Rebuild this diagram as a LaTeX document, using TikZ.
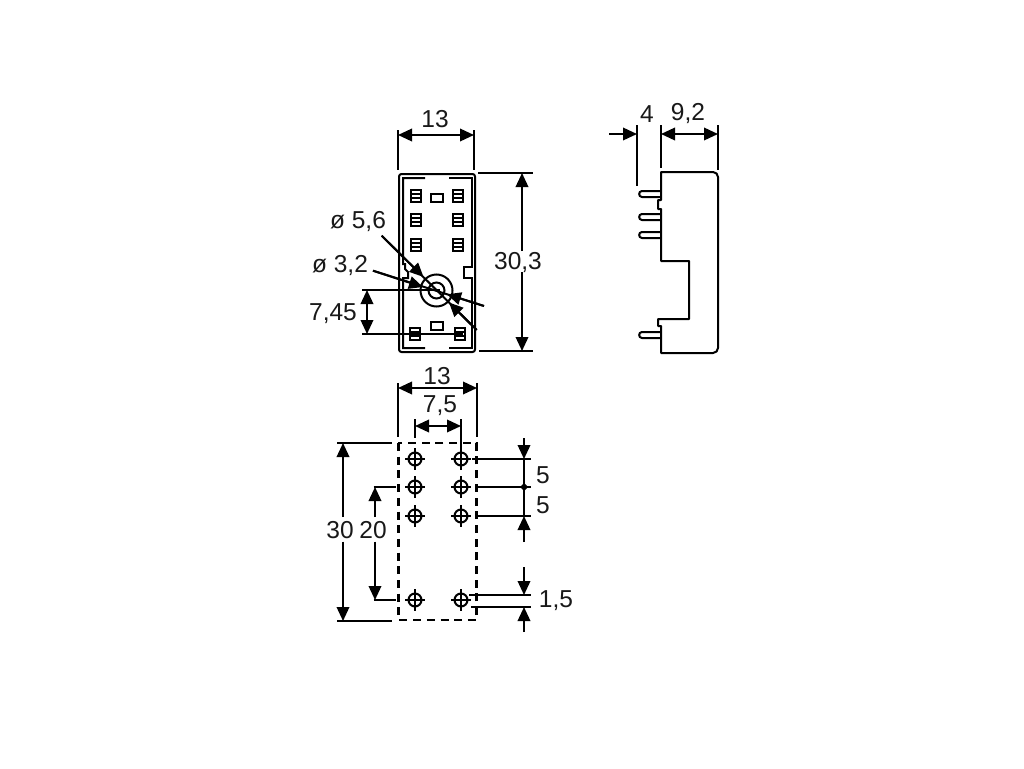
\documentclass[tikz,border=0pt]{standalone}
\usepackage{fontspec}
\setmainfont{Liberation Sans}
\usetikzlibrary{arrows.meta}
\tikzset{
  x=1pt,y=-1pt,
  ln/.style={line width=2pt,line cap=butt,line join=miter},
  tip/.style={line width=2pt,-{Triangle[length=14pt,width=12.5pt]}},
  tips/.style={line width=2pt,{Triangle[length=14pt,width=12.5pt]}-{Triangle[length=14pt,width=12.5pt]}},
  lbl/.style={inner sep=0pt,font=\fontsize{24.5}{24.5}\selectfont,text=black!90},
  dash box/.style={line width=2.6pt,dash pattern=on 8pt off 5.7pt},
  contact/.pic={
    \draw[line width=2pt] (-5,-6) rectangle (5,6);
    \draw[line width=1.6pt] (-5,-2) -- (5,-2) (-5,2) -- (5,2);
  },
  pad/.style={line width=2pt},
  hole/.pic={
    \draw[line width=2pt] (0,0) circle (6.5);
    \draw[line width=2pt] (-10,0) -- (10,0) (0,-11) -- (0,11);
  },
  pin/.pic={
    \draw[line width=2pt] (22,-3) -- (3,-3) to[out=180,in=180,looseness=1.6] (3,3) -- (22,3);
  }
}
\begin{document}
\begin{tikzpicture}
\useasboundingbox[fill=white] (0,0) rectangle (1024,768);

% ---- top view body
\draw[ln,rounded corners=2.5pt] (399,174) rectangle (475,352);
\draw[ln] (425,178) -- (403,178) -- (403,264) -- (405,264) -- (405,269) -- (408,272) -- (408,278) -- (403,278) -- (403,348) -- (425,348);
\draw[ln] (449,178) -- (472,178) -- (472,267) -- (464,267) -- (464,278) -- (472,278) -- (472,348) -- (449,348);
\pic at (416,196) {contact};
\pic at (416,220) {contact};
\pic at (416,245) {contact};
\pic at (458,196) {contact};
\pic at (458,220) {contact};
\pic at (458,245) {contact};
\pic at (415,334) {contact};
\pic at (460,334) {contact};
\draw[pad] (431,194) rectangle (443,202);
\draw[pad] (431,322) rectangle (443,330);
\draw[ln] (436.5,290.5) circle (16);
\draw[ln] (436.5,290.5) circle (8);

% ---- top view dimensions
\coordinate (tl) at (398,135); \coordinate (tr) at (474,135);
\draw[ln] (398,130) -- (398,170) (474,130) -- (474,170);
\draw[tips] (tl) -- (tr);
\node[lbl] (t13) at (435,119) {13};

\draw[ln] (478,173) -- (533,173) (479,351) -- (533,351);
\coordinate (h1) at (522,173); \coordinate (h2) at (522,351);
\draw[tip] (522,251) -- (h1);
\draw[tip] (522,272) -- (h2);
\node[lbl] (t303) at (518,263) {30,3};

\node[lbl] (t56) at (358,222) {ø 5,6};
\node[lbl] (t32) at (340,266) {ø 3,2};
\node[lbl] (t745) at (333,314) {7,45};

\draw[ln] (381.7,235.7) -- (476.7,330);
\draw[ln] (373,270.7) -- (484,306);
\draw[tip] (381.7,235.7) -- (423.5,277);
\draw[tip] (476.7,330) -- (449,302.5);
\draw[tip] (373,270.7) -- (423,287);
\draw[tip] (484,306) -- (447,294.3);

\draw[ln] (362,290) -- (440,290) (362,334) -- (463,334);
\draw[tips] (367,290) -- (367,334);

% ---- side view
\draw[ln,line join=round] (661,172) -- (713,172) to[out=0,in=90] (718,177) -- (718,348) to[out=270,in=0] (713,353) -- (661,353) -- (661,326) -- (658,326) -- (658,319) -- (689,319) -- (689,261) -- (661,261) -- (661,209) -- (658,209) -- (658,200) -- (661,200) -- cycle;
\pic at (639,194) {pin};
\pic at (639,217) {pin};
\pic at (639,235) {pin};
\pic at (639,335) {pin};
\draw[ln] (637,125) -- (637,186) (661,125) -- (661,168) (718,125) -- (718,170);
\draw[tip] (609,134) -- (637,134);
\draw[tips] (661,134) -- (718,134);
\node[lbl] (t4) at (647,114) {4};
\node[lbl] (t92) at (688,114) {9,2};

% ---- bottom view
\draw[dash box] (398.3,443) rectangle (476.7,620);
\foreach \px in {415,461}
  \foreach \py in {459,487,516}
    \pic at (\px,\py) {hole};
\pic at (415,600) {hole};
\pic at (461,600) {hole};

\draw[ln] (398,383) -- (398,437) (477,383) -- (477,437);
\draw[tips] (398,388) -- (477,388);
\node[lbl] (b13) at (437,376) {13};
\draw[ln] (415,419) -- (415,438) (461,419) -- (461,455);
\draw[tips] (415,426) -- (461,426);
\node[lbl] (b75) at (440,406) {7,5};

\draw[ln] (337,443) -- (392,443) (337,621) -- (392,621);
\draw[tip] (343,517) -- (343,443);
\draw[tip] (343,541.5) -- (343,621);
\node[lbl] (b30) at (340,530) {30};
\draw[ln] (373.5,487) -- (396,487) (373.5,600) -- (396,600);
\draw[tip] (375,517) -- (375,487);
\draw[tip] (375,541.5) -- (375,600);
\node[lbl] (b20) at (373,530) {20};

\draw[ln] (472,459) -- (531,459) (477,487) -- (531,487) (477,516) -- (531,516);
\draw[ln] (469,595) -- (531,595) (471,607) -- (531,607);
\draw[ln] (524,459) -- (524,516);
\draw[tip] (524,438) -- (524,459);
\draw[tip] (524,542) -- (524,516);
\fill (524,483) -- (528,487) -- (524,491) -- (520,487) -- cycle;
\draw[tip] (524,567) -- (524,595);
\draw[tip] (524,632) -- (524,607);
\node[lbl] (b5a) at (543,475) {5};
\node[lbl] (b5b) at (543,505) {5};
\node[lbl] (b15) at (556,601) {1,5};
\end{tikzpicture}
\end{document}
